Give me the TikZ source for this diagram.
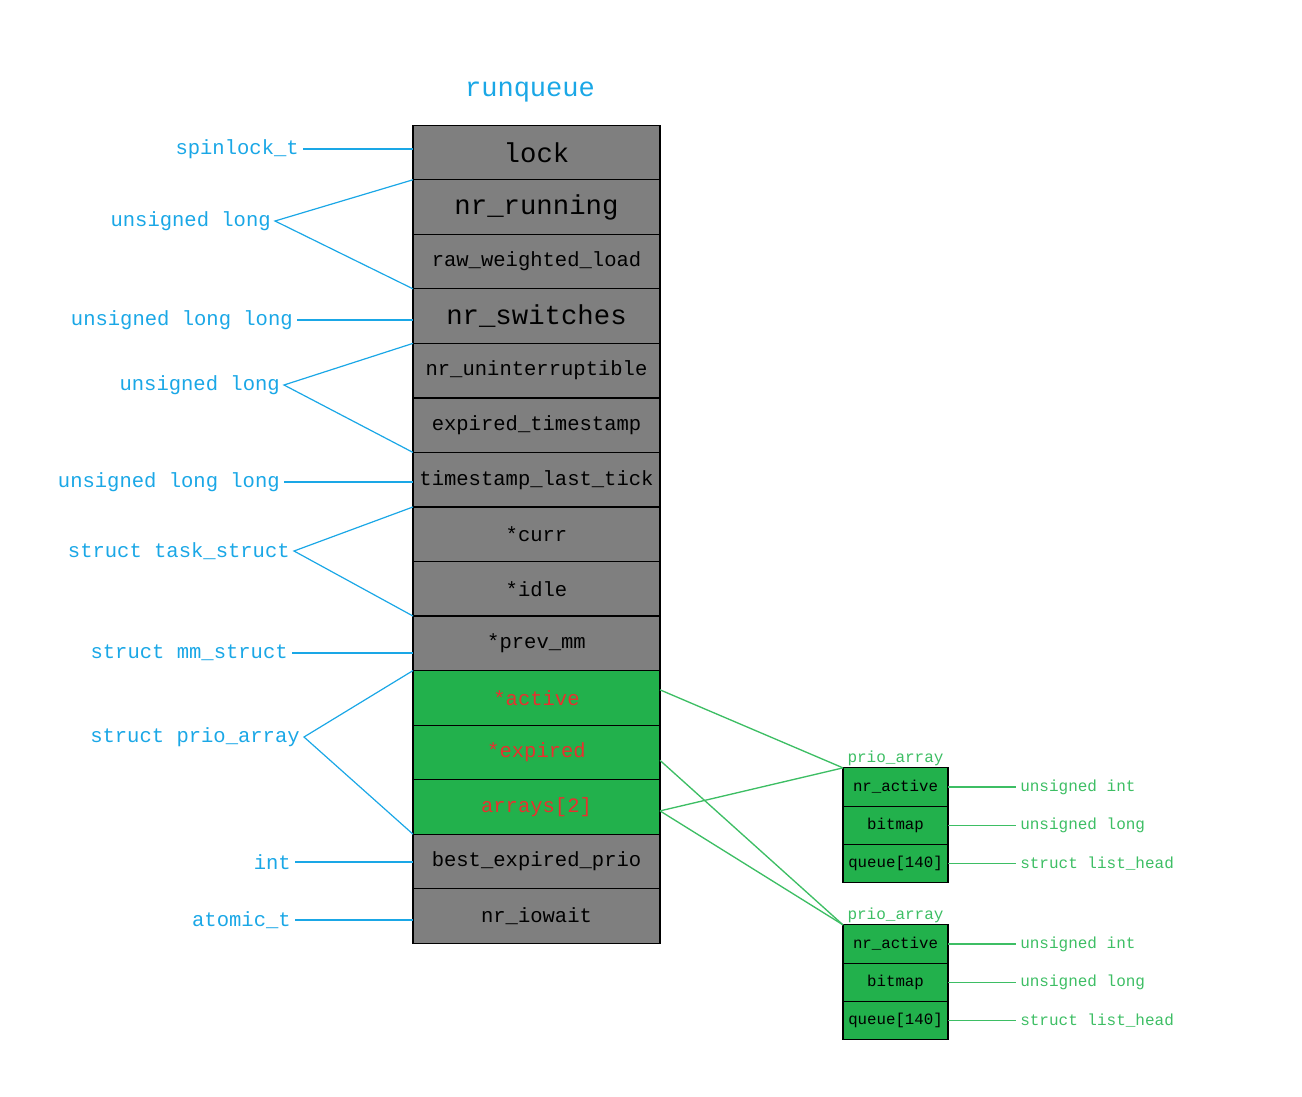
\documentclass[tikz,border=0pt]{standalone}
\usepackage{fontspec}
\setmainfont{Liberation Mono}
\usetikzlibrary{positioning}
\definecolor{Sky}{HTML}{1AA7E6}
\definecolor{Slot}{HTML}{7F7F7F}
\definecolor{Leaf}{HTML}{22B14C}
\definecolor{LeafLine}{HTML}{3DBE64}
\definecolor{Hot}{HTML}{E8302F}
\tikzset{field/.style={draw=black,fill=Slot,line width=.9pt,minimum width=185.25pt,minimum height=40.9pt,inner sep=0pt,outer sep=0pt,font=\fontsize{15.4}{18}\selectfont},big/.style={font=\fontsize{20.5}{24}\selectfont},hot/.style={fill=Leaf,text=Hot},cell/.style={draw=black,fill=Leaf,line width=.9pt,minimum width=78.75pt,minimum height=28.7pt,inner sep=0pt,outer sep=0pt,font=\fontsize{11.8}{14}\selectfont},ctype/.style={text=Sky,inner xsep=3pt,inner ysep=0pt,font=\fontsize{15.4}{18}\selectfont},gtype/.style={text=LeafLine,inner xsep=3pt,inner ysep=0pt,font=\fontsize{12}{14}\selectfont},tie/.style={draw=Sky,line width=.9pt},gtie/.style={draw=LeafLine,line width=1pt}}
\begin{document}
\begin{tikzpicture}[x=.75pt,y=-.75pt,node distance=0pt]
      \useasboundingbox (0,0) rectangle (1302,1096);
      \node[text=Sky,font=\fontsize{20.3}{24}\selectfont](rq) at (530,92){runqueue};
      % runqueue fields
      \node[field,big](lock) at (536.5,152.5){lock};
      \node[field,big,below=of lock](running){nr\_running};
      \node[field,below=of running](rawload){raw\_weighted\_load};
      \node[field,big,below=of rawload](switches){nr\_switches};
      \node[field,below=of switches](unintr){nr\_uninterruptible};
      \node[field,below=of unintr](exptime){expired\_timestamp};
      \node[field,below=of exptime](lasttick){timestamp\_last\_tick};
      \node[field,below=of lasttick](curr){*curr};
      \node[field,below=of curr](idle){*idle};
      \node[field,below=of idle](prevmm){*prev\_mm};
      \node[field,hot,below=of prevmm](active){*active};
      \node[field,hot,below=of active](expired){*expired};
      \node[field,hot,below=of expired](arrays){arrays[2]};
      \node[field,below=of arrays](bestprio){best\_expired\_prio};
      \node[field,below=of bestprio](iowait){nr\_iowait};
      % types on the left
      \node[ctype,anchor=east](tlock) at (303,149){spinlock\_t};
      \node[ctype,anchor=east](tul1) at (275,221){unsigned long};
      \node[ctype,anchor=east](tull1) at (297,320){unsigned long long};
      \node[ctype,anchor=east](tul2) at (284,385){unsigned long};
      \node[ctype,anchor=east](tull2) at (284,482){unsigned long long};
      \node[ctype,anchor=east](ttask) at (294,551){struct task\_struct};
      \node[ctype,anchor=east](tmm) at (292,653){struct mm\_struct};
      \node[ctype,anchor=east](tprio) at (304,737){struct prio\_array};
      \node[ctype,anchor=east](tint) at (295,862){int};
      \node[ctype,anchor=east](tatomic) at (295,920){atomic\_t};
      \draw[tie](tlock.east)--(tlock.east-|lock.west);
      \draw[tie](running.north west)--(tul1.east)--(rawload.south west);
      \draw[tie](tull1.east)--(tull1.east-|switches.west);
      \draw[tie](unintr.north west)--(tul2.east)--(exptime.south west);
      \draw[tie](tull2.east)--(tull2.east-|lasttick.west);
      \draw[tie](curr.north west)--(ttask.east)--(idle.south west);
      \draw[tie](tmm.east)--(tmm.east-|prevmm.west);
      \draw[tie](active.north west)--(tprio.east)--(arrays.south west);
      \draw[tie](tint.east)--(tint.east-|bestprio.west);
      \draw[tie](tatomic.east)--(tatomic.east-|iowait.west);
      % the two prio_array structs
      \node[cell](pa1n) at (895.5,787){nr\_active};
      \node[cell,below=of pa1n](pa1b){bitmap};
      \node[cell,below=of pa1b](pa1q){queue[140]};
      \node[gtype,above=1pt of pa1n](pa1){prio\_array};
      \node[cell](pa2n) at (895.5,944){nr\_active};
      \node[cell,below=of pa2n](pa2b){bitmap};
      \node[cell,below=of pa2b](pa2q){queue[140]};
      \node[gtype,above=1pt of pa2n](pa2){prio\_array};
      \node[gtype,right=51pt of pa1n](g1n){unsigned int};
      \node[gtype,right=51pt of pa1b](g1b){unsigned long};
      \node[gtype,right=51pt of pa1q](g1q){struct list\_head};
      \node[gtype,right=51pt of pa2n](g2n){unsigned int};
      \node[gtype,right=51pt of pa2b](g2b){unsigned long};
      \node[gtype,right=51pt of pa2q](g2q){struct list\_head};
      \draw[gtie](pa1n)--(g1n);\draw[gtie](pa1b)--(g1b);\draw[gtie](pa1q)--(g1q);
      \draw[gtie](pa2n)--(g2n);\draw[gtie](pa2b)--(g2b);\draw[gtie](pa2q)--(g2q);
      \draw[gtie]([yshift=6pt]active.east)--(pa1n.north west);\draw[gtie]([yshift=-3pt]arrays.east)--(pa1n.north west);
      \draw[gtie]([yshift=-6pt]expired.east)--(pa2n.north west);\draw[gtie]([yshift=-3pt]arrays.east)--(pa2n.north west);
    \end{tikzpicture}
\end{document}
